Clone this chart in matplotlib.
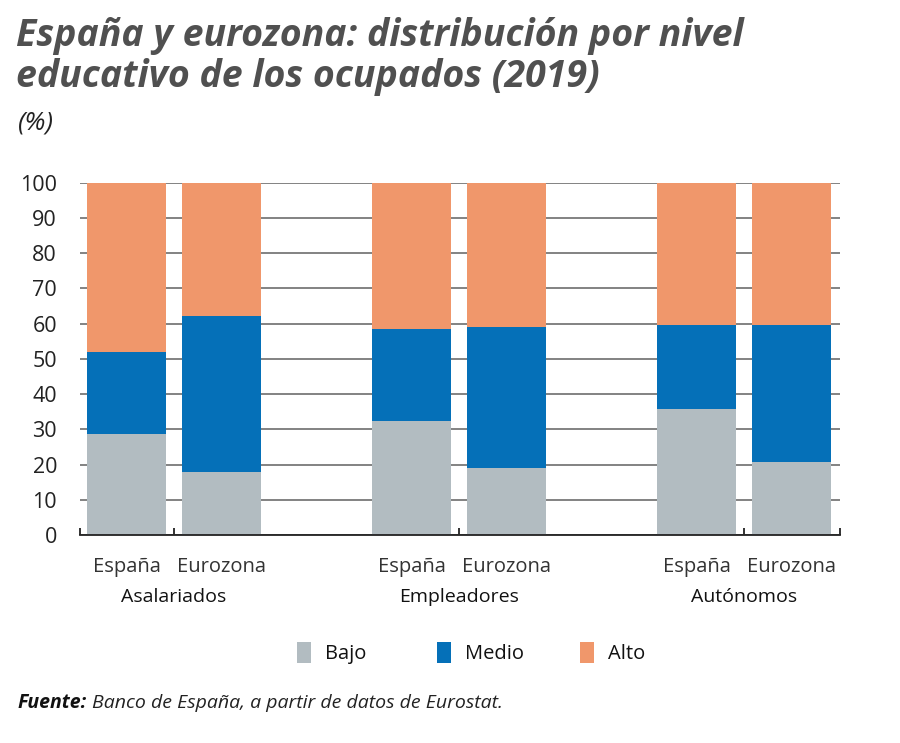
import matplotlib
matplotlib.use("Agg")
import matplotlib.pyplot as plt
from matplotlib.patches import Rectangle

groups = ["Asalariados", "Empleadores", "Autónomos"]
regions = ["España", "Eurozona"]
bajo = [28.6, 17.8, 32.4, 18.9, 35.8, 20.8]
medio = [23.4, 44.4, 26.1, 40.2, 23.9, 38.7]
alto = [48.0, 37.8, 41.5, 40.9, 40.3, 40.5]
series_names = ["Bajo", "Medio", "Alto"]
colors = ["#B2BCC1", "#0570B8", "#F0976B"]

plt.rcParams['font.family'] = ['Open Sans', 'DejaVu Sans']

fig = plt.figure(figsize=(9, 7.43), dpi=100)
ax = fig.add_axes([80/900, 1-535/743, 760/900, (535-182.7)/743])

positions = [0, 1, 3, 4, 6, 7]
w = 0.84
bottoms = [0]*6
for vals, c, name in zip([bajo, medio, alto], colors, series_names):
    ax.bar(positions, vals, width=w, bottom=bottoms, color=c, label=name, zorder=3)
    bottoms = [b + v for b, v in zip(bottoms, vals)]

ax.set_xlim(-0.49, 7.51)
ax.set_ylim(0, 100)
ax.set_yticks(range(0, 101, 10))
ax.yaxis.grid(True, color="#6d6d6d", linewidth=1.2, zorder=1)
ax.set_axisbelow(True)
for s in ["left", "right", "top"]:
    ax.spines[s].set_visible(False)
ax.spines["bottom"].set_color("#222222")
ax.spines["bottom"].set_linewidth(1.3)
ax.spines["bottom"].set_zorder(4)
ax.tick_params(axis="y", length=0, labelsize=15.5, colors="#222222", pad=16.5)
ax.set_xticks([-0.49, 0.5, 3.5, 6.5, 7.51])
ax.set_xticklabels([])
ax.tick_params(axis="x", direction="in", length=5, width=1.3, color="#222222")

for i, p in enumerate(positions):
    ax.text(p, -9.0, regions[i % 2], ha="center", va="center", fontsize=14.5,
            color="#333333", clip_on=False)
for g, gname in enumerate(groups):
    ax.text(positions[2*g] + 0.5, -17.6, gname, ha="center", va="center",
            fontsize=14, color="#111111", clip_on=False)

# legend placed manually
leg_x = [297, 437, 580]
for x0, c, name in zip(leg_x, colors, series_names):
    fig.patches.append(Rectangle((x0/900, 1-663/743), 14/900, 21/743,
                                 transform=fig.transFigure, facecolor=c, edgecolor="none"))
    fig.text((x0 + 28)/900, 1-654/743, name, fontsize=14.5, color="#111111",
             va="center", ha="left")

title_color = "#505050"
fig.text(16/900, 1-36/743, "España y eurozona: distribución por nivel", fontsize=27,
         fontweight="bold", style="italic", color=title_color, va="center", ha="left")
fig.text(16/900, 1-77/743, "educativo de los ocupados (2019)", fontsize=27,
         fontweight="bold", style="italic", color=title_color, va="center", ha="left")
fig.text(18/900, 1-123/743, "(%)", fontsize=19, style="italic", color="#222222",
         va="center", ha="left")

fig.text(18/900, 1-703/743, "Fuente:", fontsize=14, fontweight="bold", style="italic",
         color="#111111", va="center", ha="left")
fig.text(92/900, 1-703/743, "Banco de España, a partir de datos de Eurostat.", fontsize=14,
         style="italic", color="#222222", va="center", ha="left")

fig.savefig("out.png", dpi=100)
